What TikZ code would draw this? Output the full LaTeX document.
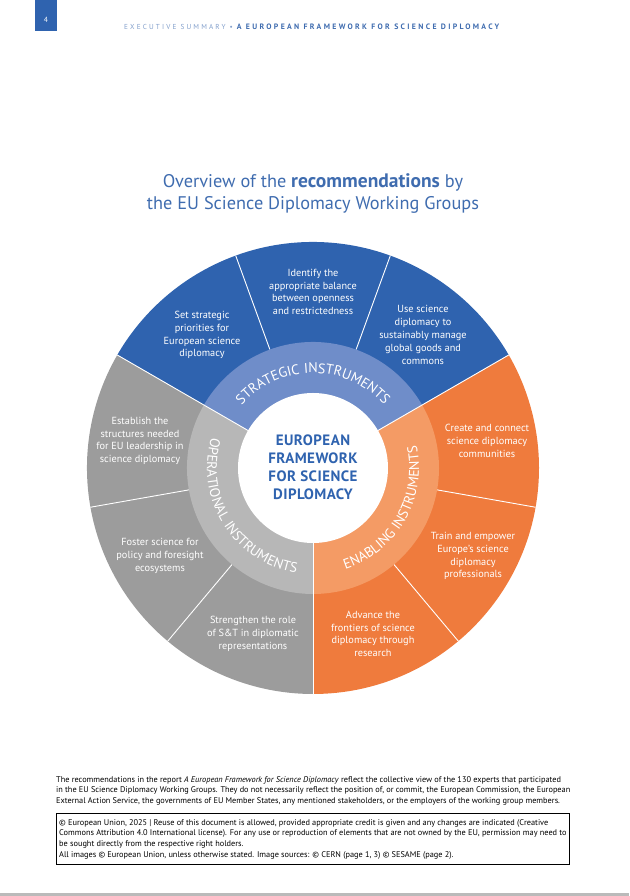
\documentclass[tikz,border=0pt]{standalone}
\usepackage{fontspec}
\setmainfont{PT Sans}
\newfontfamily\spacedfont[LetterSpace=30]{PT Sans}
\newfontfamily\ringfont[LetterSpace=3]{PT Sans}
\usetikzlibrary{decorations.text}
\definecolor{eublue}{HTML}{2F63AF}
\definecolor{eubluering}{HTML}{6F8DC9}
\definecolor{euorange}{HTML}{EF7B3D}
\definecolor{euorangering}{HTML}{F49B65}
\definecolor{eugrey}{HTML}{9C9C9C}
\definecolor{eugreyring}{HTML}{B7B7B7}
\definecolor{eutitle}{HTML}{3F6CAF}
\tikzset{
	sectortext/.style={text=white,align=center,font=\fontsize{10.3}{12.8}\selectfont},
	cuttext/.style={anchor=west,inner sep=0pt,font=\fontsize{8.3}{9}\selectfont},
	sectorline/.style={white,line width=0.9pt},
	ringtext/.style={decorate,decoration={text along path,text align=center,
		text={|\ringfont\fontsize{14}{14}\selectfont\color{white}|#1}}}
}
\begin{document}
\begin{tikzpicture}[x=1pt,y=1pt]
	\useasboundingbox (0,0) rectangle (629,896);
	\coordinate (o) at (313,428);

	% header
	\fill[eublue] (35,865) rectangle (57,896);
	\node(pageno) [text=white,font=\fontsize{7.5}{8}\selectfont] at (46,876) {4};
	\node(header) [anchor=west,inner sep=0pt,font=\fontsize{7.2}{8}\selectfont] at (124,869)
		{\spacedfont\textcolor{eutitle!65}{EXECUTIVE SUMMARY} \textcolor{eutitle!65}{\textbullet} \textcolor{eutitle}{\fontsize{7.8}{8}\selectfont\textbf{A EUROPEAN FRAMEWORK FOR SCIENCE DIPLOMACY}}};

	\node(title) [text=eutitle,align=center,font=\fontsize{18.3}{22}\selectfont] at (313,702)
		{Overview of the {\fontsize{19.5}{22}\selectfont\textbf{recommendations}} by\\the EU Science Diplomacy Working Groups};

	% outer sectors
	\fill[eublue] (o) -- ++(30:226) arc (30:150:226) -- cycle;
	\fill[euorange] (o) -- ++(-90:226) arc (-90:30:226) -- cycle;
	\fill[eugrey] (o) -- ++(150:226) arc (150:270:226) -- cycle;
	\draw[sectorline] (o) ++(70:126) -- ++(70:100);
	\draw[sectorline] (o) ++(110:126) -- ++(110:100);
	\draw[sectorline] (o) ++(-10:126) -- ++(-10:100);
	\draw[sectorline] (o) ++(-50:126) -- ++(-50:100);
	\draw[sectorline] (o) ++(190:126) -- ++(190:100);
	\draw[sectorline] (o) ++(230:126) -- ++(230:100);

	% rings
	\fill[eubluering] (o) -- ++(30:126) arc (30:150:126) -- cycle;
	\fill[euorangering] (o) -- ++(-90:126) arc (-90:30:126) -- cycle;
	\fill[eugreyring] (o) -- ++(150:126) arc (150:270:126) -- cycle;
	\draw[sectorline] (o) -- ++(30:226);
	\draw[sectorline] (o) -- ++(150:226);
	\draw[sectorline] (o) -- ++(-90:226);
	\node(hub) [circle,fill=white,minimum size=150pt,inner sep=0pt] at (o) {};
	\node(centre) [text=eublue,align=center,font=\fontsize{15}{18}\selectfont\bfseries] at (313,429)
		{\ringfont EUROPEAN\\\ringfont FRAMEWORK\\\ringfont FOR SCIENCE\\\ringfont DIPLOMACY};

	\path[ringtext={STRATEGIC INSTRUMENTS}] (o) ++(150:95) arc (150:30:95);
	\path[ringtext={OPERATIONAL INSTRUMENTS}] (o) ++(152:106) arc (152:272:106);
	\path[ringtext={ENABLING INSTRUMENTS}] (o) ++(-90:106) arc (-90:30:106);

	% sector labels
	\node(priorities) [sectortext] at (202,561) {Set strategic\\priorities for\\European science\\diplomacy};
	\node(balance) [sectortext] at (313,604) {Identify the\\appropriate balance\\between openness\\and restrictedness};
	\node(commons) [sectortext] at (423,561) {Use science\\diplomacy to\\sustainably manage\\global goods and\\commons};
	\node(communities) [sectortext] at (487,455) {Create and connect\\science diplomacy\\communities};
	\node(professionals) [sectortext] at (473,340) {Train and empower\\Europe's science\\diplomacy\\professionals};
	\node(research) [sectortext] at (373,262) {Advance the\\frontiers of science\\diplomacy through\\research};
	\node(representations) [sectortext] at (253,262) {Strengthen the role\\of S\&T in diplomatic\\representations};
	\node(ecosystems) [sectortext] at (160,340) {Foster science for\\policy and foresight\\ecosystems};
	\node(structures) [sectortext] at (140,455) {Establish the\\structures needed\\for EU leadership in\\science diplomacy};

	% footer
	\node(noteone) [cuttext] at (56,116) {The recommendations in the report \textit{A European Framework for Science Diplomacy} reflect the collective view of the 130 experts that participated};
	\node(notetwo) [cuttext] at (56,106) {in the EU Science Diplomacy Working Groups. They do not necessarily reflect the position of, or commit, the European Commission, the European};
	\node(notethree) [cuttext] at (56,95) {External Action Service, the governments of EU Member States, any mentioned stakeholders, or the employers of the working group members.};
	\draw[black,line width=0.9pt] (56,32) rectangle (569,83);
	\node(rightsone) [cuttext] at (59,73) {© European Union, 2025 | Reuse of this document is allowed, provided appropriate credit is given and any changes are indicated (Creative};
	\node(rightstwo) [cuttext] at (59,63) {Commons Attribution 4.0 International license). For any use or reproduction of elements that are not owned by the EU, permission may need to};
	\node(rightsthree) [cuttext] at (59,52) {be sought directly from the respective right holders.};
	\node(rightsfour) [cuttext] at (59,41) {All images © European Union, unless otherwise stated. Image sources: © CERN (page 1, 3) © SESAME (page 2).};
	\fill[black!27] (0,0) rectangle (629,3);
\end{tikzpicture}
\end{document}
